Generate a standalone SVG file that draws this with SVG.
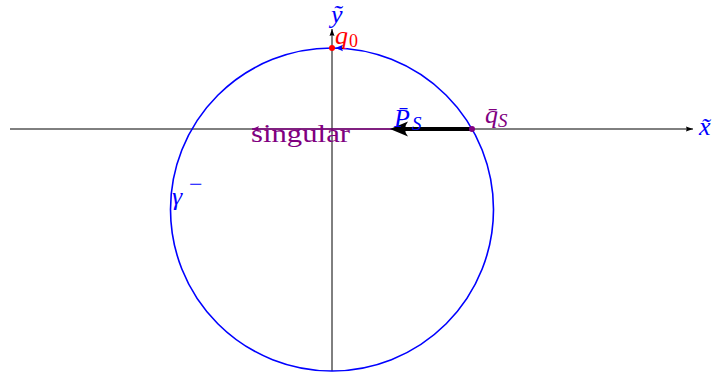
<svg xmlns="http://www.w3.org/2000/svg" width="714" height="376" viewBox="0 0 714 376">
  <defs>
    <style>
      .lbl { font-family: "Liberation Serif", "DejaVu Serif", serif; font-style: italic; }
      .rm { font-family: "Liberation Serif", "DejaVu Serif", serif; }
      .blue { fill: #0000ff; }
      .red { fill: #ff0000; }
      .purple { fill: #800080; }
    </style>
    <marker id="axhead" markerWidth="8" markerHeight="8" refX="7" refY="4" orient="auto" markerUnits="userSpaceOnUse">
      <path d="M0,1.5 L7,4 L0,6.5 Q1.5,4 0,1.5 Z" fill="#000"/>
    </marker>
    <marker id="purplehead" markerWidth="8" markerHeight="8" refX="7" refY="4" orient="auto" markerUnits="userSpaceOnUse">
      <path d="M0,1 L7,4 L0,7 Q1.8,4 0,1 Z" fill="#800080"/>
    </marker>
  </defs>
  <rect width="714" height="376" fill="#fff"/>

  <g id="connectors">
    <line id="x-axis" x1="10" y1="129" x2="693" y2="129" stroke="#000" stroke-width="1" marker-end="url(#axhead)"/>
    <line id="y-axis" x1="332" y1="371" x2="332" y2="29" stroke="#000" stroke-width="1" marker-end="url(#axhead)"/>
    <line id="singular-line" x1="472" y1="129" x2="252" y2="129" stroke="#800080" stroke-width="1.6" marker-end="url(#purplehead)"/>
  </g>

  <g id="gamma-circle">
    <circle cx="332" cy="209.5" r="161.5" fill="none" stroke="#0000ff" stroke-width="1.6"/>
    <path d="M343,44.8 L335.5,48 L343,51.2 Q340.8,48 343,44.8 Z" fill="#0000ff"/>
  </g>

  <g id="P-arrow">
    <line x1="472" y1="129" x2="404" y2="129" stroke="#000" stroke-width="4"/>
    <path d="M390,129 L408,121.5 Q402,129 408,136.5 Z" fill="#000"/>
  </g>

  <g id="q0-point">
    <circle cx="332" cy="48" r="3" fill="#ff0000"/>
  </g>
  <g id="qS-point">
    <circle cx="472" cy="129" r="3" fill="#800080"/>
  </g>

  <g id="label-y">
    <text class="lbl blue" x="331" y="23" font-size="26">ỹ</text>
  </g>
  <g id="label-q0">
    <text class="lbl red" x="335" y="44" font-size="26">q</text>
    <text class="rm red" x="349" y="47" font-size="18">0</text>
  </g>
  <g id="label-x">
    <text class="lbl blue" x="699" y="135" font-size="26">x̃</text>
  </g>
  <g id="label-PS">
    <text class="lbl blue" x="394" y="127" font-size="26">P̄</text>
    <text class="lbl blue" x="412" y="130" font-size="19">S</text>
  </g>
  <g id="label-qS">
    <text class="lbl purple" x="485" y="123" font-size="26">q̄</text>
    <text class="lbl purple" x="498" y="127" font-size="19">S</text>
  </g>
  <g id="label-singular">
    <text class="rm purple" x="251" y="142" font-size="26" textLength="99" lengthAdjust="spacingAndGlyphs">singular</text>
  </g>
  <g id="label-gamma">
    <text class="lbl blue" x="172" y="205" font-size="26">γ</text>
    <text class="rm blue" x="189" y="192" font-size="24">−</text>
  </g>
</svg>
